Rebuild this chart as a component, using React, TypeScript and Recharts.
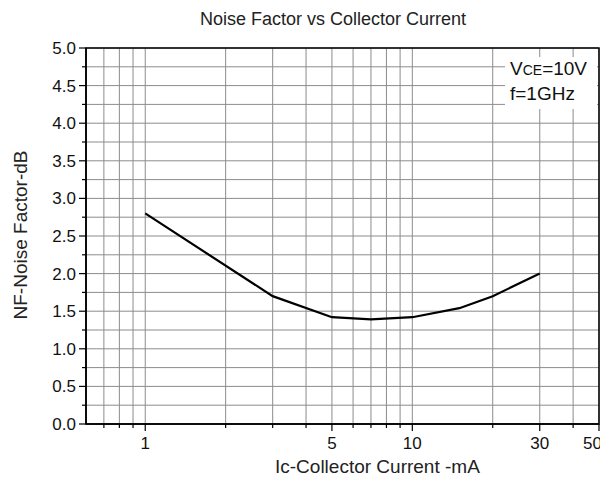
import { LineChart, Line, XAxis, YAxis, CartesianGrid, ReferenceArea } from 'recharts';

const currentMa = [1, 3, 5, 7, 10, 15, 20, 30];
const noiseDb = [2.8, 1.7, 1.42, 1.39, 1.42, 1.54, 1.7, 2.0];

const xTicks = [0.7, 0.8, 0.9, 1, 2, 3, 4, 5, 6, 7, 8, 9, 10, 20, 30, 40, 50];
const xLabelled = [1, 5, 10, 30, 50];
const yTicks = [0, 0.25, 0.5, 0.75, 1, 1.25, 1.5, 1.75, 2, 2.25, 2.5, 2.75, 3, 3.25, 3.5, 3.75, 4, 4.25, 4.5, 4.75, 5];

const data = currentMa.map((ic, i) => ({ ic, nf: noiseDb[i] }));

const FONT = '"Liberation Sans", Arial, sans-serif';

function XTick({ x, y, payload }: any) {
  const major = xLabelled.includes(payload.value);
  // the last label sits against the page edge, so it is pulled in a little
  const last = payload.value === xLabelled[xLabelled.length - 1];
  return (
    <g>
      <line x1={x} y1={y} x2={x} y2={y + (major ? 7 : 4)} stroke="#000" strokeWidth={1.2} />
      {major && (
        <text
          x={last ? x + 3 : x}
          y={y + 25}
          textAnchor={last ? 'end' : 'middle'}
          fontSize={17}
          fontFamily={FONT}
          fill="#111"
        >
          {payload.value}
        </text>
      )}
    </g>
  );
}

function YTick({ x, y, payload }: any) {
  const major = Math.round(payload.value * 100) % 50 === 0;
  return (
    <g>
      <line x1={x} y1={y} x2={x - (major ? 7 : 4)} y2={y} stroke="#000" strokeWidth={1.2} />
      {major && (
        <text x={x - 10} y={y + 6} textAnchor="end" fontSize={17} fontFamily={FONT} fill="#111">
          {payload.value.toFixed(1)}
        </text>
      )}
    </g>
  );
}

// the chart covers the whole 608x483 page, so cancel the body margin
export default function App() {
  return (
    <div style={{ position: 'relative', width: 608, height: 483, margin: -8, background: '#fff' }}>
      <LineChart width={608} height={483} data={data} margin={{ top: 48, right: 9, bottom: 29, left: 26 }}>
        <CartesianGrid stroke="#8c8c8c" strokeWidth={1} />
        <XAxis
          dataKey="ic"
          type="number"
          scale="log"
          domain={[0.6, 50]}
          allowDataOverflow
          ticks={xTicks}
          interval={0}
          height={30}
          tickSize={0}
          tickMargin={0}
          tickLine={false}
          axisLine={{ stroke: '#000', strokeWidth: 1.5 }}
          tick={<XTick />}
        />
        <YAxis
          type="number"
          domain={[0, 5]}
          ticks={yTicks}
          interval={0}
          width={60}
          tickSize={0}
          tickMargin={0}
          tickLine={false}
          axisLine={{ stroke: '#000', strokeWidth: 1.5 }}
          tick={<YTick />}
        />
        <ReferenceArea x1={0.6} x2={50} y1={0} y2={5} fill="none" fillOpacity={0} stroke="#000" strokeWidth={1.5} />
        <Line type="linear" dataKey="nf" stroke="#000" strokeWidth={2.2} dot={false} isAnimationActive={false} />
      </LineChart>
      <svg width={608} height={483} style={{ position: 'absolute', left: 0, top: 0, pointerEvents: 'none' }}>
        <text x={200} y={25} fontSize={18} fontFamily={FONT} fill="#222">Noise Factor vs Collector Current</text>
        <text x={275} y={473} fontSize={19} fontFamily={FONT} fill="#222">Ic-Collector Current -mA</text>
        <text x={27} y={235} transform="rotate(-90, 27, 235)" textAnchor="middle" fontSize={19} fontFamily={FONT} fill="#222">
          NF-Noise Factor-dB
        </text>
        <rect x={505} y={57} width={92} height={52} fill="#fff" />
        <text x={510} y={75} fontSize={19} fontFamily={FONT} fill="#111">
          V<tspan fontSize={14}>CE</tspan>=10V
        </text>
        <text x={510} y={100} fontSize={19} fontFamily={FONT} fill="#111">f=1GHz</text>
      </svg>
    </div>
  );
}
